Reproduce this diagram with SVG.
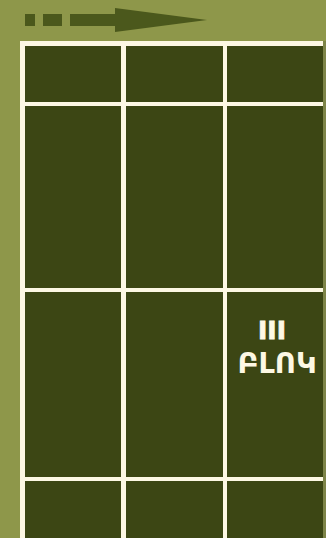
<svg xmlns="http://www.w3.org/2000/svg" width="326" height="538" viewBox="0 0 326 538">
  <style>
    .cell { fill: #3c4614; }
    .arrow { fill: #4b581c; }
    .lbl { font-family: "DejaVu Sans", "Liberation Sans", sans-serif; font-weight: bold; fill: #fdf8e4; text-anchor: middle; }
  </style>
  <rect x="0" y="0" width="326" height="538" fill="#8e974a"/>
  <g id="arrow">
    <rect class="arrow" x="25" y="14" width="10" height="12"/>
    <rect class="arrow" x="43" y="14" width="19" height="12"/>
    <rect class="arrow" x="70" y="14" width="46" height="12"/>
    <polygon class="arrow" points="115,8 207,20 115,32"/>
  </g>
  <g id="grid">
    <rect x="20" y="41" width="306" height="497" fill="#fdf8e4"/>
    <rect x="323" y="41" width="3" height="497" fill="#7d8448"/>
  </g>
  <g id="row1">
    <rect class="cell" x="25" y="46" width="96" height="56"/>
    <rect class="cell" x="126" y="46" width="97" height="56"/>
    <rect class="cell" x="227" y="46" width="96" height="56"/>
  </g>
  <g id="row2">
    <rect class="cell" x="25" y="106" width="96" height="182"/>
    <rect class="cell" x="126" y="106" width="97" height="182"/>
    <rect class="cell" x="227" y="106" width="96" height="182"/>
  </g>
  <g id="row3">
    <rect class="cell" x="25" y="292" width="96" height="185"/>
    <rect class="cell" x="126" y="292" width="97" height="185"/>
    <rect class="cell" x="227" y="292" width="96" height="185"/>
  </g>
  <g id="row4">
    <rect class="cell" x="25" y="481" width="96" height="57"/>
    <rect class="cell" x="126" y="481" width="97" height="57"/>
    <rect class="cell" x="227" y="481" width="96" height="57"/>
  </g>
  <g id="label">
    <text class="lbl" x="272" y="339" font-size="25" stroke="#fdf8e4" stroke-width="0.8">III</text>
    <text class="lbl" x="277" y="373" font-size="29">ԲԼՈԿ</text>
  </g>
</svg>
